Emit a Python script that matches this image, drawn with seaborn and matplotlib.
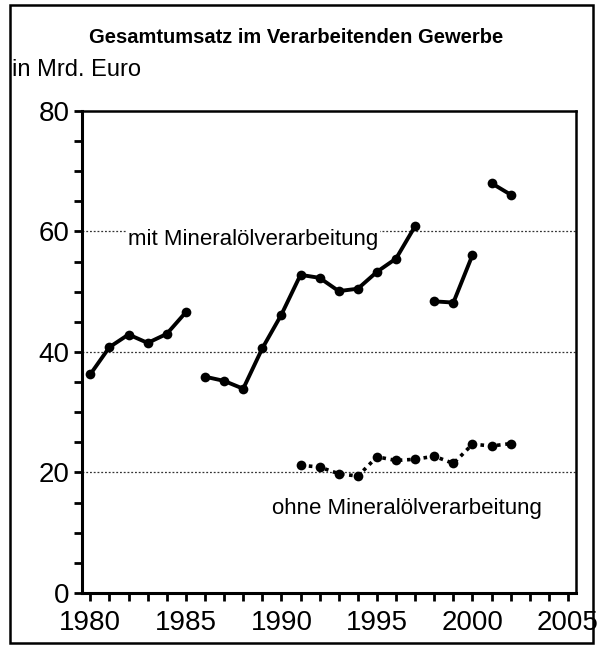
import matplotlib
matplotlib.use("Agg")
import matplotlib.pyplot as plt
from matplotlib import font_manager
from matplotlib.patches import Rectangle
from matplotlib.ticker import MultipleLocator
import seaborn as sns
import pandas as pd

# Sales of the manufacturing sector, billion euro
years_mit = list(range(1980, 2003))
umsatz_mit = [36.3, 40.8, 42.9, 41.5, 43.0, 46.6,
              35.9, 35.2, 33.9, 40.6, 46.2, 52.8, 52.3, 50.1, 50.5, 53.3, 55.5, 60.9,
              48.4, 48.2, 56.1,
              68.0, 66.1]
# statistical breaks split the series into separate pieces
segment_mit = [1] * 6 + [2] * 12 + [3] * 3 + [4] * 2

years_ohne = list(range(1991, 2003))
umsatz_ohne = [21.2, 20.9, 19.8, 19.4, 22.6, 22.0, 22.2, 22.7, 21.5, 24.7, 24.4, 24.8]

title = "Gesamtumsatz im Verarbeitenden Gewerbe"
unit_label = "in Mrd. Euro"
label_mit = "mit Mineralölverarbeitung"
label_ohne = "ohne Mineralölverarbeitung"
x_ticks = [1980, 1985, 1990, 1995, 2000, 2005]
y_ticks = [0, 20, 40, 60, 80]

sns.set_theme(style="white")
installed = {f.name for f in font_manager.fontManager.ttflist}
families = [f for f in ["Liberation Sans Narrow", "Liberation Sans", "DejaVu Sans"] if f in installed]
plt.rcParams["font.family"] = families
plt.rcParams["text.color"] = "black"
plt.rcParams["xtick.color"] = "black"
plt.rcParams["ytick.color"] = "black"

df_mit = pd.DataFrame({"Jahr": years_mit, "Umsatz": umsatz_mit, "Teil": segment_mit})
df_ohne = pd.DataFrame({"Jahr": years_ohne, "Umsatz": umsatz_ohne})

fig = plt.figure(figsize=(5.98, 6.45), dpi=100)
ax = fig.add_axes([0.137, 0.0806, 0.826, 0.7474])

for part, grp in df_mit.groupby("Teil"):
    sns.lineplot(data=grp, x="Jahr", y="Umsatz", ax=ax, color="black",
                 linewidth=2.8, marker="o", markersize=7, markeredgewidth=0,
                 estimator=None, legend=False)

sns.lineplot(data=df_ohne, x="Jahr", y="Umsatz", ax=ax, color="black",
             linewidth=2.6, linestyle=(0, (1, 1.3)), marker="o", markersize=7,
             markeredgewidth=0, estimator=None, legend=False)

# horizontal reference lines
for yv in [20, 40, 60]:
    ax.axhline(yv, color="#333333", linewidth=0.9, linestyle=(0, (1.5, 1.5)), zorder=0)

ax.set_xlim(1979.56, 2005.41)
ax.set_ylim(0, 80)
ax.set_xticks(x_ticks)
ax.set_xticklabels([str(t) for t in x_ticks])
ax.xaxis.set_minor_locator(MultipleLocator(1))
ax.set_yticks(y_ticks)
ax.set_yticklabels([str(t) for t in y_ticks])
ax.yaxis.set_minor_locator(MultipleLocator(5))
ax.tick_params(axis="both", which="both", direction="out", length=6, width=2,
               color="black", labelcolor="black", labelsize=20, pad=3)
ax.tick_params(axis="x", which="major", pad=6)
ax.tick_params(axis="both", which="both", bottom=True, left=True)
ax.set_xlabel("")
ax.set_ylabel("")
for side, sp in ax.spines.items():
    sp.set_visible(True)
    sp.set_color("black")
    sp.set_linewidth(2.2 if side in ("left", "bottom") else 1.8)

ax.text(1981.95, 58.6, label_mit, fontsize=16, va="center", ha="left", color="black",
        bbox=dict(facecolor="white", edgecolor="none", pad=1.5), zorder=3)
ax.text(1989.5, 14.1, label_ohne, fontsize=16, va="center", ha="left", color="black",
        zorder=3)

fig.text(0.495, 0.942, title, fontsize=14.5, fontweight="bold", ha="center",
         va="center", color="black")
fig.text(0.02, 0.891, unit_label, fontsize=17, ha="left", va="center", color="black")

# outer frame around the whole chart
fig.patches.append(Rectangle((0.017, 0.003), 0.975, 0.99, transform=fig.transFigure,
                             fill=False, edgecolor="black", linewidth=1.8))

fig.savefig("out.png", dpi=100)
